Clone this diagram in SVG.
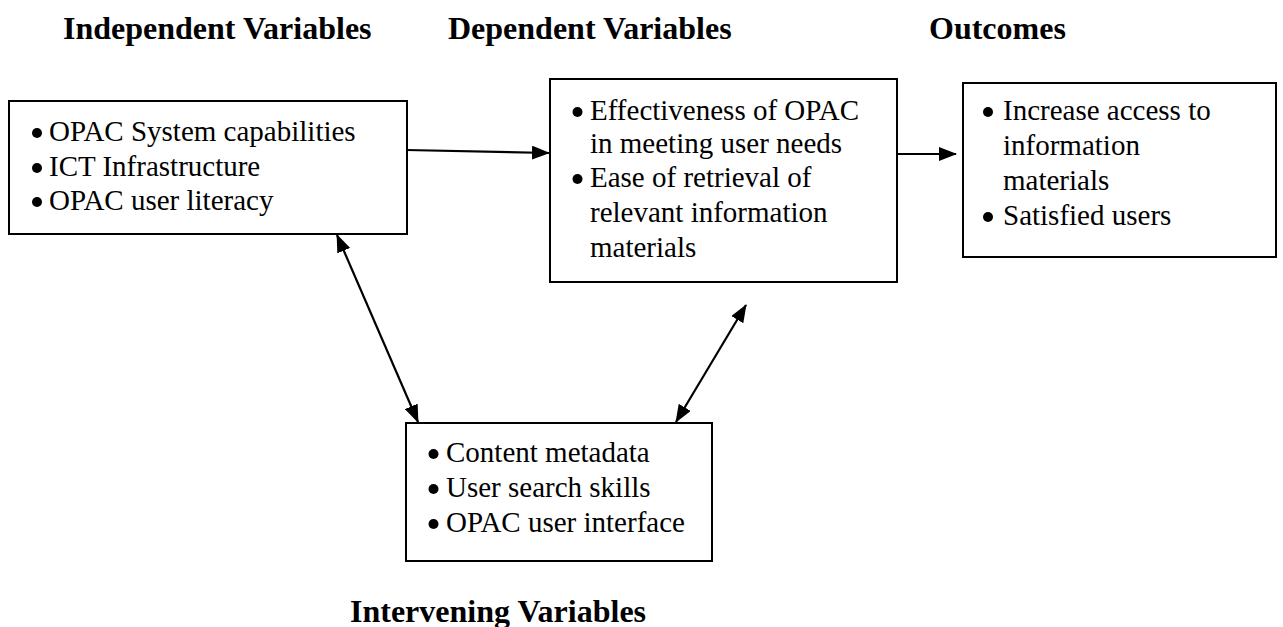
<svg xmlns="http://www.w3.org/2000/svg" width="1283" height="627" viewBox="0 0 1283 627">
  <style>
    .hdr { font-family: "Liberation Serif", "Times New Roman", serif; font-weight: bold; font-size: 32px; fill: #000; }
    .txt { font-family: "Liberation Serif", "Times New Roman", serif; font-size: 29px; fill: #000; }
    .box { fill: #fff; stroke: #000; stroke-width: 2; }
    .dot { fill: #000; }
    .conn { stroke: #000; stroke-width: 2.2; fill: none; }
  </style>
  <defs>
    <marker id="arrow" viewBox="0 0 18 14" refX="17" refY="7" markerWidth="18" markerHeight="14" markerUnits="userSpaceOnUse" orient="auto-start-reverse">
      <path d="M0,0 L18,7 L0,14 z" fill="#000"/>
    </marker>
  </defs>

  <rect width="1283" height="627" fill="#fff"/>

  <!-- column headings -->
  <g id="headings">
    <text class="hdr" x="63" y="39">Independent Variables</text>
    <text class="hdr" x="448" y="39">Dependent Variables</text>
    <text class="hdr" x="929" y="39">Outcomes</text>
    <text class="hdr" x="350" y="622">Intervening Variables</text>
  </g>

  <!-- connectors -->
  <g id="connectors">
    <line class="conn" x1="406" y1="150" x2="549" y2="153" marker-end="url(#arrow)"/>
    <line class="conn" x1="897" y1="154" x2="956" y2="154" marker-end="url(#arrow)"/>
    <line class="conn" x1="337" y1="235" x2="418" y2="422" marker-start="url(#arrow)" marker-end="url(#arrow)"/>
    <line class="conn" x1="746" y1="305" x2="676" y2="422" marker-start="url(#arrow)" marker-end="url(#arrow)"/>
  </g>

  <!-- independent variables -->
  <g id="independent">
    <rect class="box" x="9" y="101" width="398" height="133"/>
    <circle class="dot" cx="37" cy="133" r="5"/>
    <circle class="dot" cx="37" cy="168" r="5"/>
    <circle class="dot" cx="37" cy="202" r="5"/>
    <text class="txt" x="49" y="141">OPAC System capabilities</text>
    <text class="txt" x="49" y="176">ICT Infrastructure</text>
    <text class="txt" x="49" y="210">OPAC user literacy</text>
  </g>

  <!-- dependent variables -->
  <g id="dependent">
    <rect class="box" x="550" y="79" width="347" height="203"/>
    <circle class="dot" cx="577.5" cy="112" r="5"/>
    <circle class="dot" cx="577.5" cy="179" r="5"/>
    <text class="txt" x="590" y="120">Effectiveness of OPAC</text>
    <text class="txt" x="590" y="153">in meeting user needs</text>
    <text class="txt" x="590" y="187">Ease of retrieval of</text>
    <text class="txt" x="590" y="222">relevant information</text>
    <text class="txt" x="590" y="257">materials</text>
  </g>

  <!-- outcomes -->
  <g id="outcomes">
    <rect class="box" x="963" y="83" width="313" height="174"/>
    <circle class="dot" cx="988" cy="112" r="5"/>
    <circle class="dot" cx="988" cy="217" r="5"/>
    <text class="txt" x="1003" y="120">Increase access to</text>
    <text class="txt" x="1003" y="155">information</text>
    <text class="txt" x="1003" y="190">materials</text>
    <text class="txt" x="1003" y="225">Satisfied users</text>
  </g>

  <!-- intervening variables -->
  <g id="intervening">
    <rect class="box" x="406" y="423" width="306" height="138"/>
    <circle class="dot" cx="433.5" cy="454" r="5"/>
    <circle class="dot" cx="433.5" cy="489" r="5"/>
    <circle class="dot" cx="433.5" cy="524" r="5"/>
    <text class="txt" x="446" y="462">Content metadata</text>
    <text class="txt" x="446" y="497">User search skills</text>
    <text class="txt" x="446" y="532">OPAC user interface</text>
  </g>
</svg>
